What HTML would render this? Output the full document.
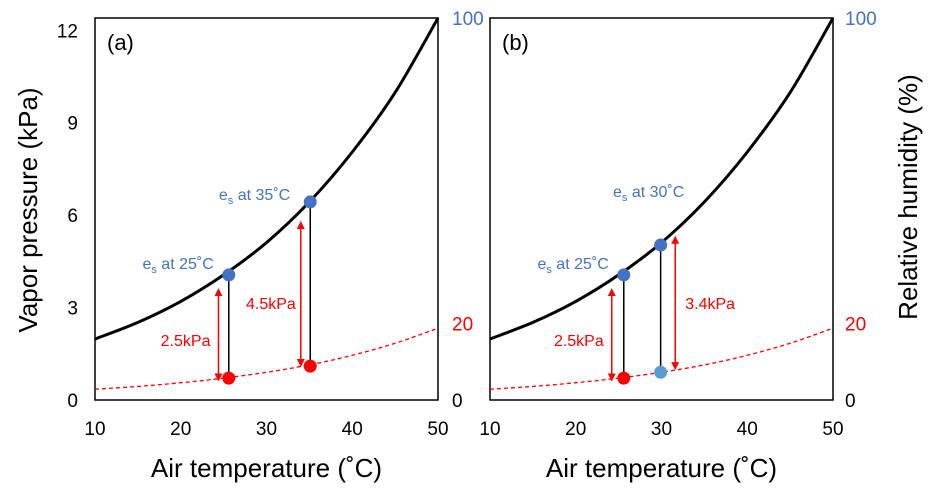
<!DOCTYPE html>
<html><head><meta charset="utf-8"><style>
body{margin:0;background:#fff}
svg{display:block;font-family:"Liberation Sans",Arial,sans-serif}
</style></head><body>
<svg id="c" width="939" height="499"></svg>
<script>
// data
const curveT = [10,15,20,25,30,35,40,45,50];
const esCurve = [1.98,2.52,3.2,4.06,5.11,6.43,8.05,9.98,12.4];
const rhCurve = [0.35,0.44,0.56,0.71,0.9,1.14,1.45,1.84,2.33];
const xTicks = [10,20,30,40,50];
const yTicksKpa = [0,3,6,9,12];
const rhTicks = [0,20,100];
const panelNames = ["(a)","(b)"];
const blueT = [[25.6,35.1],[25.6,29.9]];
const blueV = [[4.06,6.43],[4.06,5.03]];
const blueLbl = [["25","35"],["25","30"]];
const lowT = [[25.6,35.1],[25.6,29.9]];
const lowV = [[0.71,1.1],[0.71,0.9]];
const lowColor = [["#ff0000","#ff0000"],["#ff0000","#5b9bd5"]];
const arrowT = [[24.4,34.0],[24.2,31.6]];
const arrowTop = [[3.5,5.68],[3.5,5.2]];
const arrowBot = [[0.73,1.2],[0.73,1.1]];
const arrowLbl = [["2.5kPa","4.5kPa"],["2.5kPa","3.4kPa"]];

const NS="http://www.w3.org/2000/svg", svg=document.getElementById('c');
function el(t,a,txt){const e=document.createElementNS(NS,t);for(const k in a)e.setAttribute(k,a[k]);if(txt!==undefined)e.textContent=txt;svg.appendChild(e);return e;}
const Y0=400,Y1=18,VMAX=12.4;
const y=v=>Y0-v/VMAX*(Y0-Y1);
const yRH=p=>Y0-p/100*(Y0-Y1);
const panels=[95,490], W=343;
function smooth(pts){
  let d='M'+pts[0][0].toFixed(1)+','+pts[0][1].toFixed(1);
  for(let i=0;i<pts.length-1;i++){
    const p0=pts[Math.max(0,i-1)],p1=pts[i],p2=pts[i+1],p3=pts[Math.min(pts.length-1,i+2)];
    const c1=[p1[0]+(p2[0]-p0[0])/6,p1[1]+(p2[1]-p0[1])/6];
    const c2=[p2[0]-(p3[0]-p1[0])/6,p2[1]-(p3[1]-p1[1])/6];
    d+=' C'+c1[0].toFixed(1)+','+c1[1].toFixed(1)+' '+c2[0].toFixed(1)+','+c2[1].toFixed(1)+' '+p2[0].toFixed(1)+','+p2[1].toFixed(1);
  }
  return d;
}
el('defs',{}).innerHTML='<marker id="ar" markerWidth="8" markerHeight="8" refX="4" refY="4" orient="auto-start-reverse" markerUnits="userSpaceOnUse"><path d="M0,0 L8,4 L0,8z" fill="#ff0000"/></marker>';
const rhColor=v=>v===100?'#4472c4':(v===20?'#ff0000':'#000');
panels.forEach((L,p)=>{
  const x=t=>L+(t-10)/40*W;
  let r=el('rect',{x:L,y:Y1,width:W,height:Y0-Y1,fill:'none',stroke:'#000','stroke-width':1.5});
  
  let t=el('text',{x:L+12,y:50,'font-size':22},panelNames[p]);
  
  xTicks.forEach(v=>{let e=el('text',{x:x(v),y:435,'font-size':19,'text-anchor':'middle'},v);
    });
  let xt=el('text',{x:L+W/2,y:477,'font-size':26,'text-anchor':'middle'},'Air temperature (\u02DAC)');
  
  if(p===0){
    yTicksKpa.forEach(v=>{let e=el('text',{x:78,y:y(v)+7,'font-size':19,'text-anchor':'end'},v);
      });
  }
  rhTicks.forEach(v=>{let e=el('text',{x:p===0?452:845,y:yRH(v)+7,'font-size':19,fill:rhColor(v)},v);
    });
  let c=el('path',{d:smooth(curveT.map((t,i)=>[x(t),y(esCurve[i])])),fill:'none',stroke:'#000','stroke-width':3});
  
  c=el('path',{d:smooth(curveT.map((t,i)=>[x(t),y(rhCurve[i])])),fill:'none',stroke:'#ff0000','stroke-width':1.3,'stroke-dasharray':'4,3'});
  
  for(let i=0;i<2;i++){
    let ln=el('line',{x1:x(blueT[p][i]),y1:y(blueV[p][i]),x2:x(lowT[p][i]),y2:y(lowV[p][i]),stroke:'#000','stroke-width':1.5});
    
    let a=el('line',{x1:x(arrowT[p][i]),y1:y(arrowTop[p][i]),x2:x(arrowT[p][i]),y2:y(arrowBot[p][i]),stroke:'#ff0000','stroke-width':1.5,'marker-start':'url(#ar)','marker-end':'url(#ar)'});
    
    let b=el('circle',{cx:x(blueT[p][i]),cy:y(blueV[p][i]),r:6.5,fill:'#4472c4'});
    
    let rd=el('circle',{cx:x(lowT[p][i]),cy:y(lowV[p][i]),r:6.5,fill:lowColor[p][i]});
    
    let lb;
    if(i===0) lb=el('text',{x:x(blueT[p][i])-15,y:y(blueV[p][i])-6,'font-size':16,fill:'#4472c4','text-anchor':'end'});
    else if(p===0) lb=el('text',{x:x(blueT[p][i])-20,y:y(blueV[p][i])-2,'font-size':16,fill:'#4472c4','text-anchor':'end'});
    else lb=el('text',{x:x(blueT[p][i])-12,y:y(blueV[p][i])-48,'font-size':16,fill:'#4472c4','text-anchor':'middle'});
    lb.innerHTML='e<tspan font-size="11" dy="4">s</tspan><tspan dy="-4"> at '+blueLbl[p][i]+'\u02DAC</tspan>';
    
    let ax=x(arrowT[p][i]);
    let al=(i===0)?el('text',{x:ax-8,y:346,'font-size':16,fill:'#ff0000','text-anchor':'end'},arrowLbl[p][i])
                  :el('text',{x:p===0?ax-5:ax+10,y:309,'font-size':16,fill:'#ff0000','text-anchor':p===0?'end':'start'},arrowLbl[p][i]);
    
  }
});
let yt=el('text',{x:0,y:0,'font-size':26,'text-anchor':'middle',transform:'translate(37,210) rotate(-90)'},'Vapor pressure (kPa)');

let rt=el('text',{x:0,y:0,'font-size':26,'text-anchor':'middle',transform:'translate(917,197) rotate(-90)'},'Relative humidity (%)');

</script>
</body></html>
